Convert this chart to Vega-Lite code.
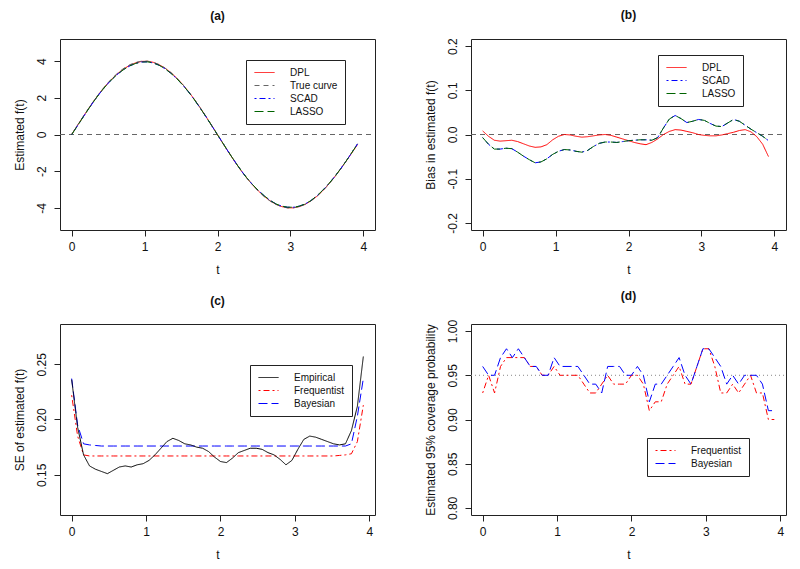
{
"$schema": "https://vega.github.io/schema/vega-lite/v6.json",
"padding": {"left": 12, "top": 8, "right": 5, "bottom": 5},
"background": "white",
"config": {
  "font": "Liberation Sans",
  "view": {"stroke": "#222", "strokeWidth": 1},
  "axis": {"domain": false, "grid": false, "tickColor": "#222", "tickSize": 6, "labelFontSize": 12, "labelColor": "#111", "titleFontSize": 12, "titleFontWeight": "normal", "titleColor": "#111", "labelFont": "Liberation Sans", "titleFont": "Liberation Sans", "labelOverlap": false, "labelFlush": false},
  "axisY": {"labelAngle": -90, "labelAlign": "center", "labelBaseline": "bottom", "labelPadding": 6, "titlePadding": 9},
  "axisX": {"labelPadding": 5, "titlePadding": 12},
  "title": {"fontSize": 12, "fontWeight": "bold", "font": "Liberation Sans", "offset": 16, "color": "#111", "anchor": "middle", "frame": "group"},
  "legend": {"orient": "none", "labelFontSize": 10, "labelFont": "Liberation Sans", "labelColor": "#111", "symbolType": "M-2,0H2", "symbolSize": 100, "symbolStrokeWidth": 1, "symbolOffset": 6, "strokeColor": "#222", "fillColor": "white", "padding": 7, "rowPadding": 2, "labelOffset": 20}
},
"columns": 2,
"spacing": {"row": 94, "column": 96},
"bounds": "flush",
"resolve": {"scale": {"color": "independent", "strokeDash": "independent", "x": "independent", "y": "independent"}, "legend": {"color": "independent", "strokeDash": "independent"}},
"datasets": {
  "a": [
{"t":-0.16,"s":"ref","v":0},{"t":4.16,"s":"ref","v":0},
{"t":0,"s":"DPL","v":0.008},{"t":0.08,"s":"DPL","v":0.497},{"t":0.16,"s":"DPL","v":0.982},{"t":0.24,"s":"DPL","v":1.457},{"t":0.32,"s":"DPL","v":1.913},{"t":0.4,"s":"DPL","v":2.338},{"t":0.48,"s":"DPL","v":2.722},{"t":0.56,"s":"DPL","v":3.061},{"t":0.64,"s":"DPL","v":3.351},{"t":0.72,"s":"DPL","v":3.59},{"t":0.8,"s":"DPL","v":3.776},{"t":0.88,"s":"DPL","v":3.906},{"t":0.96,"s":"DPL","v":3.98},{"t":1.04,"s":"DPL","v":3.988},{"t":1.12,"s":"DPL","v":3.929},{"t":1.2,"s":"DPL","v":3.803},{"t":1.28,"s":"DPL","v":3.615},{"t":1.36,"s":"DPL","v":3.371},{"t":1.44,"s":"DPL","v":3.077},{"t":1.52,"s":"DPL","v":2.735},{"t":1.6,"s":"DPL","v":2.35},{"t":1.68,"s":"DPL","v":1.927},{"t":1.76,"s":"DPL","v":1.47},{"t":1.84,"s":"DPL","v":0.989},{"t":1.92,"s":"DPL","v":0.491},{"t":2,"s":"DPL","v":-0.014},{"t":2.08,"s":"DPL","v":-0.519},{"t":2.16,"s":"DPL","v":-1.016},{"t":2.24,"s":"DPL","v":-1.495},{"t":2.32,"s":"DPL","v":-1.945},{"t":2.4,"s":"DPL","v":-2.361},{"t":2.48,"s":"DPL","v":-2.738},{"t":2.56,"s":"DPL","v":-3.075},{"t":2.64,"s":"DPL","v":-3.366},{"t":2.72,"s":"DPL","v":-3.609},{"t":2.8,"s":"DPL","v":-3.797},{"t":2.88,"s":"DPL","v":-3.925},{"t":2.96,"s":"DPL","v":-3.992},{"t":3.04,"s":"DPL","v":-3.994},{"t":3.12,"s":"DPL","v":-3.932},{"t":3.2,"s":"DPL","v":-3.807},{"t":3.28,"s":"DPL","v":-3.62},{"t":3.36,"s":"DPL","v":-3.375},{"t":3.44,"s":"DPL","v":-3.077},{"t":3.52,"s":"DPL","v":-2.729},{"t":3.6,"s":"DPL","v":-2.34},{"t":3.68,"s":"DPL","v":-1.921},{"t":3.76,"s":"DPL","v":-1.477},{"t":3.84,"s":"DPL","v":-1.017},{"t":3.92,"s":"DPL","v":-0.551},
{"t":0,"s":"True curve","v":0},{"t":0.08,"s":"True curve","v":0.501},{"t":0.16,"s":"True curve","v":0.995},{"t":0.24,"s":"True curve","v":1.472},{"t":0.32,"s":"True curve","v":1.927},{"t":0.4,"s":"True curve","v":2.351},{"t":0.48,"s":"True curve","v":2.738},{"t":0.56,"s":"True curve","v":3.082},{"t":0.64,"s":"True curve","v":3.377},{"t":0.72,"s":"True curve","v":3.619},{"t":0.8,"s":"True curve","v":3.804},{"t":0.88,"s":"True curve","v":3.929},{"t":0.96,"s":"True curve","v":3.992},{"t":1.04,"s":"True curve","v":3.992},{"t":1.12,"s":"True curve","v":3.929},{"t":1.2,"s":"True curve","v":3.804},{"t":1.28,"s":"True curve","v":3.619},{"t":1.36,"s":"True curve","v":3.377},{"t":1.44,"s":"True curve","v":3.082},{"t":1.52,"s":"True curve","v":2.738},{"t":1.6,"s":"True curve","v":2.351},{"t":1.68,"s":"True curve","v":1.927},{"t":1.76,"s":"True curve","v":1.472},{"t":1.84,"s":"True curve","v":0.995},{"t":1.92,"s":"True curve","v":0.501},{"t":2,"s":"True curve","v":0},{"t":2.08,"s":"True curve","v":-0.501},{"t":2.16,"s":"True curve","v":-0.995},{"t":2.24,"s":"True curve","v":-1.472},{"t":2.32,"s":"True curve","v":-1.927},{"t":2.4,"s":"True curve","v":-2.351},{"t":2.48,"s":"True curve","v":-2.738},{"t":2.56,"s":"True curve","v":-3.082},{"t":2.64,"s":"True curve","v":-3.377},{"t":2.72,"s":"True curve","v":-3.619},{"t":2.8,"s":"True curve","v":-3.804},{"t":2.88,"s":"True curve","v":-3.929},{"t":2.96,"s":"True curve","v":-3.992},{"t":3.04,"s":"True curve","v":-3.992},{"t":3.12,"s":"True curve","v":-3.929},{"t":3.2,"s":"True curve","v":-3.804},{"t":3.28,"s":"True curve","v":-3.619},{"t":3.36,"s":"True curve","v":-3.377},{"t":3.44,"s":"True curve","v":-3.082},{"t":3.52,"s":"True curve","v":-2.738},{"t":3.6,"s":"True curve","v":-2.351},{"t":3.68,"s":"True curve","v":-1.927},{"t":3.76,"s":"True curve","v":-1.472},{"t":3.84,"s":"True curve","v":-0.995},{"t":3.92,"s":"True curve","v":-0.501},
{"t":0,"s":"SCAD","v":-0.007},{"t":0.08,"s":"SCAD","v":0.479},{"t":0.16,"s":"SCAD","v":0.962},{"t":0.24,"s":"SCAD","v":1.439},{"t":0.32,"s":"SCAD","v":1.896},{"t":0.4,"s":"SCAD","v":2.319},{"t":0.48,"s":"SCAD","v":2.698},{"t":0.56,"s":"SCAD","v":3.033},{"t":0.64,"s":"SCAD","v":3.32},{"t":0.72,"s":"SCAD","v":3.555},{"t":0.8,"s":"SCAD","v":3.742},{"t":0.88,"s":"SCAD","v":3.874},{"t":0.96,"s":"SCAD","v":3.947},{"t":1.04,"s":"SCAD","v":3.954},{"t":1.12,"s":"SCAD","v":3.895},{"t":1.2,"s":"SCAD","v":3.769},{"t":1.28,"s":"SCAD","v":3.581},{"t":1.36,"s":"SCAD","v":3.337},{"t":1.44,"s":"SCAD","v":3.046},{"t":1.52,"s":"SCAD","v":2.711},{"t":1.6,"s":"SCAD","v":2.331},{"t":1.68,"s":"SCAD","v":1.91},{"t":1.76,"s":"SCAD","v":1.455},{"t":1.84,"s":"SCAD","v":0.977},{"t":1.92,"s":"SCAD","v":0.485},{"t":2,"s":"SCAD","v":-0.014},{"t":2.08,"s":"SCAD","v":-0.514},{"t":2.16,"s":"SCAD","v":-1.007},{"t":2.24,"s":"SCAD","v":-1.484},{"t":2.32,"s":"SCAD","v":-1.94},{"t":2.4,"s":"SCAD","v":-2.358},{"t":2.48,"s":"SCAD","v":-2.723},{"t":2.56,"s":"SCAD","v":-3.049},{"t":2.64,"s":"SCAD","v":-3.334},{"t":2.72,"s":"SCAD","v":-3.583},{"t":2.8,"s":"SCAD","v":-3.777},{"t":2.88,"s":"SCAD","v":-3.899},{"t":2.96,"s":"SCAD","v":-3.958},{"t":3.04,"s":"SCAD","v":-3.96},{"t":3.12,"s":"SCAD","v":-3.904},{"t":3.2,"s":"SCAD","v":-3.785},{"t":3.28,"s":"SCAD","v":-3.601},{"t":3.36,"s":"SCAD","v":-3.351},{"t":3.44,"s":"SCAD","v":-3.048},{"t":3.52,"s":"SCAD","v":-2.708},{"t":3.6,"s":"SCAD","v":-2.33},{"t":3.68,"s":"SCAD","v":-1.915},{"t":3.76,"s":"SCAD","v":-1.468},{"t":3.84,"s":"SCAD","v":-0.999},{"t":3.92,"s":"SCAD","v":-0.515},
{"t":0,"s":"LASSO","v":-0.007},{"t":0.08,"s":"LASSO","v":0.479},{"t":0.16,"s":"LASSO","v":0.962},{"t":0.24,"s":"LASSO","v":1.439},{"t":0.32,"s":"LASSO","v":1.896},{"t":0.4,"s":"LASSO","v":2.319},{"t":0.48,"s":"LASSO","v":2.698},{"t":0.56,"s":"LASSO","v":3.033},{"t":0.64,"s":"LASSO","v":3.32},{"t":0.72,"s":"LASSO","v":3.555},{"t":0.8,"s":"LASSO","v":3.742},{"t":0.88,"s":"LASSO","v":3.874},{"t":0.96,"s":"LASSO","v":3.947},{"t":1.04,"s":"LASSO","v":3.954},{"t":1.12,"s":"LASSO","v":3.895},{"t":1.2,"s":"LASSO","v":3.769},{"t":1.28,"s":"LASSO","v":3.581},{"t":1.36,"s":"LASSO","v":3.337},{"t":1.44,"s":"LASSO","v":3.046},{"t":1.52,"s":"LASSO","v":2.711},{"t":1.6,"s":"LASSO","v":2.331},{"t":1.68,"s":"LASSO","v":1.91},{"t":1.76,"s":"LASSO","v":1.455},{"t":1.84,"s":"LASSO","v":0.977},{"t":1.92,"s":"LASSO","v":0.485},{"t":2,"s":"LASSO","v":-0.014},{"t":2.08,"s":"LASSO","v":-0.514},{"t":2.16,"s":"LASSO","v":-1.007},{"t":2.24,"s":"LASSO","v":-1.484},{"t":2.32,"s":"LASSO","v":-1.94},{"t":2.4,"s":"LASSO","v":-2.358},{"t":2.48,"s":"LASSO","v":-2.723},{"t":2.56,"s":"LASSO","v":-3.049},{"t":2.64,"s":"LASSO","v":-3.334},{"t":2.72,"s":"LASSO","v":-3.583},{"t":2.8,"s":"LASSO","v":-3.777},{"t":2.88,"s":"LASSO","v":-3.899},{"t":2.96,"s":"LASSO","v":-3.958},{"t":3.04,"s":"LASSO","v":-3.96},{"t":3.12,"s":"LASSO","v":-3.904},{"t":3.2,"s":"LASSO","v":-3.785},{"t":3.28,"s":"LASSO","v":-3.601},{"t":3.36,"s":"LASSO","v":-3.351},{"t":3.44,"s":"LASSO","v":-3.048},{"t":3.52,"s":"LASSO","v":-2.708},{"t":3.6,"s":"LASSO","v":-2.33},{"t":3.68,"s":"LASSO","v":-1.915},{"t":3.76,"s":"LASSO","v":-1.468},{"t":3.84,"s":"LASSO","v":-0.999},{"t":3.92,"s":"LASSO","v":-0.515}
  ],
  "b": [
{"t":-0.16,"s":"ref","v":0},{"t":4.16,"s":"ref","v":0},
{"t":0,"s":"DPL","v":0.008},{"t":0.08,"s":"DPL","v":-0.004},{"t":0.16,"s":"DPL","v":-0.013},{"t":0.24,"s":"DPL","v":-0.015},{"t":0.32,"s":"DPL","v":-0.014},{"t":0.4,"s":"DPL","v":-0.013},{"t":0.48,"s":"DPL","v":-0.016},{"t":0.56,"s":"DPL","v":-0.021},{"t":0.64,"s":"DPL","v":-0.026},{"t":0.72,"s":"DPL","v":-0.029},{"t":0.8,"s":"DPL","v":-0.028},{"t":0.88,"s":"DPL","v":-0.023},{"t":0.96,"s":"DPL","v":-0.012},{"t":1.04,"s":"DPL","v":-0.004},{"t":1.12,"s":"DPL","v":0},{"t":1.2,"s":"DPL","v":-0.001},{"t":1.28,"s":"DPL","v":-0.004},{"t":1.36,"s":"DPL","v":-0.006},{"t":1.44,"s":"DPL","v":-0.005},{"t":1.52,"s":"DPL","v":-0.003},{"t":1.6,"s":"DPL","v":-0.001},{"t":1.68,"s":"DPL","v":0},{"t":1.76,"s":"DPL","v":-0.002},{"t":1.84,"s":"DPL","v":-0.006},{"t":1.92,"s":"DPL","v":-0.01},{"t":2,"s":"DPL","v":-0.014},{"t":2.08,"s":"DPL","v":-0.018},{"t":2.16,"s":"DPL","v":-0.021},{"t":2.24,"s":"DPL","v":-0.023},{"t":2.32,"s":"DPL","v":-0.018},{"t":2.4,"s":"DPL","v":-0.01},{"t":2.48,"s":"DPL","v":0},{"t":2.56,"s":"DPL","v":0.007},{"t":2.64,"s":"DPL","v":0.011},{"t":2.72,"s":"DPL","v":0.01},{"t":2.8,"s":"DPL","v":0.007},{"t":2.88,"s":"DPL","v":0.004},{"t":2.96,"s":"DPL","v":0},{"t":3.04,"s":"DPL","v":-0.002},{"t":3.12,"s":"DPL","v":-0.003},{"t":3.2,"s":"DPL","v":-0.003},{"t":3.28,"s":"DPL","v":-0.001},{"t":3.36,"s":"DPL","v":0.002},{"t":3.44,"s":"DPL","v":0.005},{"t":3.52,"s":"DPL","v":0.009},{"t":3.6,"s":"DPL","v":0.011},{"t":3.68,"s":"DPL","v":0.006},{"t":3.76,"s":"DPL","v":-0.005},{"t":3.84,"s":"DPL","v":-0.022},{"t":3.92,"s":"DPL","v":-0.05},
{"t":0,"s":"SCAD","v":-0.007},{"t":0.08,"s":"SCAD","v":-0.022},{"t":0.16,"s":"SCAD","v":-0.033},{"t":0.24,"s":"SCAD","v":-0.033},{"t":0.32,"s":"SCAD","v":-0.031},{"t":0.4,"s":"SCAD","v":-0.032},{"t":0.48,"s":"SCAD","v":-0.04},{"t":0.56,"s":"SCAD","v":-0.049},{"t":0.64,"s":"SCAD","v":-0.057},{"t":0.72,"s":"SCAD","v":-0.064},{"t":0.8,"s":"SCAD","v":-0.062},{"t":0.88,"s":"SCAD","v":-0.055},{"t":0.96,"s":"SCAD","v":-0.045},{"t":1.04,"s":"SCAD","v":-0.038},{"t":1.12,"s":"SCAD","v":-0.034},{"t":1.2,"s":"SCAD","v":-0.035},{"t":1.28,"s":"SCAD","v":-0.038},{"t":1.36,"s":"SCAD","v":-0.04},{"t":1.44,"s":"SCAD","v":-0.036},{"t":1.52,"s":"SCAD","v":-0.027},{"t":1.6,"s":"SCAD","v":-0.02},{"t":1.68,"s":"SCAD","v":-0.017},{"t":1.76,"s":"SCAD","v":-0.017},{"t":1.84,"s":"SCAD","v":-0.018},{"t":1.92,"s":"SCAD","v":-0.016},{"t":2,"s":"SCAD","v":-0.014},{"t":2.08,"s":"SCAD","v":-0.013},{"t":2.16,"s":"SCAD","v":-0.012},{"t":2.24,"s":"SCAD","v":-0.012},{"t":2.32,"s":"SCAD","v":-0.013},{"t":2.4,"s":"SCAD","v":-0.007},{"t":2.48,"s":"SCAD","v":0.015},{"t":2.56,"s":"SCAD","v":0.035},{"t":2.64,"s":"SCAD","v":0.043},{"t":2.72,"s":"SCAD","v":0.036},{"t":2.8,"s":"SCAD","v":0.027},{"t":2.88,"s":"SCAD","v":0.03},{"t":2.96,"s":"SCAD","v":0.034},{"t":3.04,"s":"SCAD","v":0.032},{"t":3.12,"s":"SCAD","v":0.025},{"t":3.2,"s":"SCAD","v":0.019},{"t":3.28,"s":"SCAD","v":0.018},{"t":3.36,"s":"SCAD","v":0.026},{"t":3.44,"s":"SCAD","v":0.034},{"t":3.52,"s":"SCAD","v":0.03},{"t":3.6,"s":"SCAD","v":0.021},{"t":3.68,"s":"SCAD","v":0.012},{"t":3.76,"s":"SCAD","v":0.004},{"t":3.84,"s":"SCAD","v":-0.004},{"t":3.92,"s":"SCAD","v":-0.014},
{"t":0,"s":"LASSO","v":-0.007},{"t":0.08,"s":"LASSO","v":-0.022},{"t":0.16,"s":"LASSO","v":-0.033},{"t":0.24,"s":"LASSO","v":-0.033},{"t":0.32,"s":"LASSO","v":-0.031},{"t":0.4,"s":"LASSO","v":-0.032},{"t":0.48,"s":"LASSO","v":-0.04},{"t":0.56,"s":"LASSO","v":-0.049},{"t":0.64,"s":"LASSO","v":-0.057},{"t":0.72,"s":"LASSO","v":-0.064},{"t":0.8,"s":"LASSO","v":-0.062},{"t":0.88,"s":"LASSO","v":-0.055},{"t":0.96,"s":"LASSO","v":-0.045},{"t":1.04,"s":"LASSO","v":-0.038},{"t":1.12,"s":"LASSO","v":-0.034},{"t":1.2,"s":"LASSO","v":-0.035},{"t":1.28,"s":"LASSO","v":-0.038},{"t":1.36,"s":"LASSO","v":-0.04},{"t":1.44,"s":"LASSO","v":-0.036},{"t":1.52,"s":"LASSO","v":-0.027},{"t":1.6,"s":"LASSO","v":-0.02},{"t":1.68,"s":"LASSO","v":-0.017},{"t":1.76,"s":"LASSO","v":-0.017},{"t":1.84,"s":"LASSO","v":-0.018},{"t":1.92,"s":"LASSO","v":-0.016},{"t":2,"s":"LASSO","v":-0.014},{"t":2.08,"s":"LASSO","v":-0.013},{"t":2.16,"s":"LASSO","v":-0.012},{"t":2.24,"s":"LASSO","v":-0.012},{"t":2.32,"s":"LASSO","v":-0.013},{"t":2.4,"s":"LASSO","v":-0.007},{"t":2.48,"s":"LASSO","v":0.015},{"t":2.56,"s":"LASSO","v":0.035},{"t":2.64,"s":"LASSO","v":0.043},{"t":2.72,"s":"LASSO","v":0.036},{"t":2.8,"s":"LASSO","v":0.027},{"t":2.88,"s":"LASSO","v":0.03},{"t":2.96,"s":"LASSO","v":0.034},{"t":3.04,"s":"LASSO","v":0.032},{"t":3.12,"s":"LASSO","v":0.025},{"t":3.2,"s":"LASSO","v":0.019},{"t":3.28,"s":"LASSO","v":0.018},{"t":3.36,"s":"LASSO","v":0.026},{"t":3.44,"s":"LASSO","v":0.034},{"t":3.52,"s":"LASSO","v":0.03},{"t":3.6,"s":"LASSO","v":0.021},{"t":3.68,"s":"LASSO","v":0.012},{"t":3.76,"s":"LASSO","v":0.004},{"t":3.84,"s":"LASSO","v":-0.004},{"t":3.92,"s":"LASSO","v":-0.014}
  ],
  "c": [
{"t":0,"s":"Frequentist","v":0.222},{"t":0.08,"s":"Frequentist","v":0.185},{"t":0.16,"s":"Frequentist","v":0.168},{"t":0.24,"s":"Frequentist","v":0.167},{"t":0.32,"s":"Frequentist","v":0.167},{"t":0.4,"s":"Frequentist","v":0.167},{"t":0.48,"s":"Frequentist","v":0.167},{"t":0.56,"s":"Frequentist","v":0.167},{"t":0.64,"s":"Frequentist","v":0.167},{"t":0.72,"s":"Frequentist","v":0.167},{"t":0.8,"s":"Frequentist","v":0.167},{"t":0.88,"s":"Frequentist","v":0.167},{"t":0.96,"s":"Frequentist","v":0.167},{"t":1.04,"s":"Frequentist","v":0.167},{"t":1.12,"s":"Frequentist","v":0.167},{"t":1.2,"s":"Frequentist","v":0.167},{"t":1.28,"s":"Frequentist","v":0.167},{"t":1.36,"s":"Frequentist","v":0.167},{"t":1.44,"s":"Frequentist","v":0.167},{"t":1.52,"s":"Frequentist","v":0.167},{"t":1.6,"s":"Frequentist","v":0.167},{"t":1.68,"s":"Frequentist","v":0.167},{"t":1.76,"s":"Frequentist","v":0.167},{"t":1.84,"s":"Frequentist","v":0.167},{"t":1.92,"s":"Frequentist","v":0.167},{"t":2,"s":"Frequentist","v":0.167},{"t":2.08,"s":"Frequentist","v":0.167},{"t":2.16,"s":"Frequentist","v":0.167},{"t":2.24,"s":"Frequentist","v":0.167},{"t":2.32,"s":"Frequentist","v":0.167},{"t":2.4,"s":"Frequentist","v":0.167},{"t":2.48,"s":"Frequentist","v":0.167},{"t":2.56,"s":"Frequentist","v":0.167},{"t":2.64,"s":"Frequentist","v":0.167},{"t":2.72,"s":"Frequentist","v":0.167},{"t":2.8,"s":"Frequentist","v":0.167},{"t":2.88,"s":"Frequentist","v":0.167},{"t":2.96,"s":"Frequentist","v":0.167},{"t":3.04,"s":"Frequentist","v":0.167},{"t":3.12,"s":"Frequentist","v":0.167},{"t":3.2,"s":"Frequentist","v":0.167},{"t":3.28,"s":"Frequentist","v":0.167},{"t":3.36,"s":"Frequentist","v":0.167},{"t":3.44,"s":"Frequentist","v":0.167},{"t":3.52,"s":"Frequentist","v":0.167},{"t":3.6,"s":"Frequentist","v":0.1675},{"t":3.68,"s":"Frequentist","v":0.168},{"t":3.76,"s":"Frequentist","v":0.169},{"t":3.84,"s":"Frequentist","v":0.18},{"t":3.92,"s":"Frequentist","v":0.213},
{"t":0,"s":"Bayesian","v":0.237},{"t":0.08,"s":"Bayesian","v":0.195},{"t":0.16,"s":"Bayesian","v":0.178},{"t":0.24,"s":"Bayesian","v":0.177},{"t":0.32,"s":"Bayesian","v":0.1765},{"t":0.4,"s":"Bayesian","v":0.176},{"t":0.48,"s":"Bayesian","v":0.176},{"t":0.56,"s":"Bayesian","v":0.176},{"t":0.64,"s":"Bayesian","v":0.176},{"t":0.72,"s":"Bayesian","v":0.176},{"t":0.8,"s":"Bayesian","v":0.176},{"t":0.88,"s":"Bayesian","v":0.176},{"t":0.96,"s":"Bayesian","v":0.176},{"t":1.04,"s":"Bayesian","v":0.176},{"t":1.12,"s":"Bayesian","v":0.176},{"t":1.2,"s":"Bayesian","v":0.176},{"t":1.28,"s":"Bayesian","v":0.176},{"t":1.36,"s":"Bayesian","v":0.176},{"t":1.44,"s":"Bayesian","v":0.176},{"t":1.52,"s":"Bayesian","v":0.176},{"t":1.6,"s":"Bayesian","v":0.176},{"t":1.68,"s":"Bayesian","v":0.176},{"t":1.76,"s":"Bayesian","v":0.176},{"t":1.84,"s":"Bayesian","v":0.176},{"t":1.92,"s":"Bayesian","v":0.176},{"t":2,"s":"Bayesian","v":0.176},{"t":2.08,"s":"Bayesian","v":0.176},{"t":2.16,"s":"Bayesian","v":0.176},{"t":2.24,"s":"Bayesian","v":0.176},{"t":2.32,"s":"Bayesian","v":0.176},{"t":2.4,"s":"Bayesian","v":0.176},{"t":2.48,"s":"Bayesian","v":0.176},{"t":2.56,"s":"Bayesian","v":0.176},{"t":2.64,"s":"Bayesian","v":0.176},{"t":2.72,"s":"Bayesian","v":0.176},{"t":2.8,"s":"Bayesian","v":0.176},{"t":2.88,"s":"Bayesian","v":0.176},{"t":2.96,"s":"Bayesian","v":0.176},{"t":3.04,"s":"Bayesian","v":0.176},{"t":3.12,"s":"Bayesian","v":0.176},{"t":3.2,"s":"Bayesian","v":0.176},{"t":3.28,"s":"Bayesian","v":0.176},{"t":3.36,"s":"Bayesian","v":0.176},{"t":3.44,"s":"Bayesian","v":0.176},{"t":3.52,"s":"Bayesian","v":0.176},{"t":3.6,"s":"Bayesian","v":0.176},{"t":3.68,"s":"Bayesian","v":0.176},{"t":3.76,"s":"Bayesian","v":0.178},{"t":3.84,"s":"Bayesian","v":0.203},{"t":3.92,"s":"Bayesian","v":0.237},
{"t":0,"s":"Empirical","v":0.236},{"t":0.08,"s":"Empirical","v":0.193},{"t":0.16,"s":"Empirical","v":0.168},{"t":0.24,"s":"Empirical","v":0.158},{"t":0.32,"s":"Empirical","v":0.155},{"t":0.4,"s":"Empirical","v":0.153},{"t":0.48,"s":"Empirical","v":0.151},{"t":0.56,"s":"Empirical","v":0.154},{"t":0.64,"s":"Empirical","v":0.157},{"t":0.72,"s":"Empirical","v":0.158},{"t":0.8,"s":"Empirical","v":0.157},{"t":0.88,"s":"Empirical","v":0.159},{"t":0.96,"s":"Empirical","v":0.16},{"t":1.04,"s":"Empirical","v":0.163},{"t":1.12,"s":"Empirical","v":0.168},{"t":1.2,"s":"Empirical","v":0.174},{"t":1.28,"s":"Empirical","v":0.18},{"t":1.36,"s":"Empirical","v":0.183},{"t":1.44,"s":"Empirical","v":0.181},{"t":1.52,"s":"Empirical","v":0.178},{"t":1.6,"s":"Empirical","v":0.177},{"t":1.68,"s":"Empirical","v":0.175},{"t":1.76,"s":"Empirical","v":0.174},{"t":1.84,"s":"Empirical","v":0.171},{"t":1.92,"s":"Empirical","v":0.166},{"t":2,"s":"Empirical","v":0.162},{"t":2.08,"s":"Empirical","v":0.161},{"t":2.16,"s":"Empirical","v":0.165},{"t":2.24,"s":"Empirical","v":0.17},{"t":2.32,"s":"Empirical","v":0.172},{"t":2.4,"s":"Empirical","v":0.174},{"t":2.48,"s":"Empirical","v":0.174},{"t":2.56,"s":"Empirical","v":0.173},{"t":2.64,"s":"Empirical","v":0.17},{"t":2.72,"s":"Empirical","v":0.168},{"t":2.8,"s":"Empirical","v":0.164},{"t":2.88,"s":"Empirical","v":0.159},{"t":2.96,"s":"Empirical","v":0.163},{"t":3.04,"s":"Empirical","v":0.173},{"t":3.12,"s":"Empirical","v":0.182},{"t":3.2,"s":"Empirical","v":0.185},{"t":3.28,"s":"Empirical","v":0.184},{"t":3.36,"s":"Empirical","v":0.182},{"t":3.44,"s":"Empirical","v":0.18},{"t":3.52,"s":"Empirical","v":0.178},{"t":3.6,"s":"Empirical","v":0.177},{"t":3.68,"s":"Empirical","v":0.178},{"t":3.76,"s":"Empirical","v":0.19},{"t":3.84,"s":"Empirical","v":0.212},{"t":3.92,"s":"Empirical","v":0.257}
  ],
  "d": [
{"t":-0.1568,"s":"ref","v":0.95},{"t":4.0768,"s":"ref","v":0.95},
{"t":0,"s":"Frequentist","v":0.93},{"t":0.08,"s":"Frequentist","v":0.95},{"t":0.16,"s":"Frequentist","v":0.93},{"t":0.24,"s":"Frequentist","v":0.96},{"t":0.32,"s":"Frequentist","v":0.97},{"t":0.4,"s":"Frequentist","v":0.97},{"t":0.48,"s":"Frequentist","v":0.97},{"t":0.56,"s":"Frequentist","v":0.97},{"t":0.64,"s":"Frequentist","v":0.96},{"t":0.72,"s":"Frequentist","v":0.96},{"t":0.8,"s":"Frequentist","v":0.95},{"t":0.88,"s":"Frequentist","v":0.95},{"t":0.96,"s":"Frequentist","v":0.96},{"t":1.04,"s":"Frequentist","v":0.95},{"t":1.12,"s":"Frequentist","v":0.95},{"t":1.2,"s":"Frequentist","v":0.95},{"t":1.28,"s":"Frequentist","v":0.95},{"t":1.36,"s":"Frequentist","v":0.94},{"t":1.44,"s":"Frequentist","v":0.93},{"t":1.52,"s":"Frequentist","v":0.93},{"t":1.6,"s":"Frequentist","v":0.94},{"t":1.68,"s":"Frequentist","v":0.95},{"t":1.76,"s":"Frequentist","v":0.94},{"t":1.84,"s":"Frequentist","v":0.94},{"t":1.92,"s":"Frequentist","v":0.94},{"t":2,"s":"Frequentist","v":0.95},{"t":2.08,"s":"Frequentist","v":0.95},{"t":2.16,"s":"Frequentist","v":0.94},{"t":2.24,"s":"Frequentist","v":0.91},{"t":2.32,"s":"Frequentist","v":0.92},{"t":2.4,"s":"Frequentist","v":0.92},{"t":2.48,"s":"Frequentist","v":0.94},{"t":2.56,"s":"Frequentist","v":0.95},{"t":2.64,"s":"Frequentist","v":0.96},{"t":2.72,"s":"Frequentist","v":0.94},{"t":2.8,"s":"Frequentist","v":0.94},{"t":2.88,"s":"Frequentist","v":0.96},{"t":2.96,"s":"Frequentist","v":0.98},{"t":3.04,"s":"Frequentist","v":0.98},{"t":3.12,"s":"Frequentist","v":0.96},{"t":3.2,"s":"Frequentist","v":0.93},{"t":3.28,"s":"Frequentist","v":0.93},{"t":3.36,"s":"Frequentist","v":0.94},{"t":3.44,"s":"Frequentist","v":0.93},{"t":3.52,"s":"Frequentist","v":0.94},{"t":3.6,"s":"Frequentist","v":0.95},{"t":3.68,"s":"Frequentist","v":0.93},{"t":3.76,"s":"Frequentist","v":0.93},{"t":3.84,"s":"Frequentist","v":0.9},{"t":3.92,"s":"Frequentist","v":0.9},
{"t":0,"s":"Bayesian","v":0.96},{"t":0.08,"s":"Bayesian","v":0.95},{"t":0.16,"s":"Bayesian","v":0.95},{"t":0.24,"s":"Bayesian","v":0.97},{"t":0.32,"s":"Bayesian","v":0.98},{"t":0.4,"s":"Bayesian","v":0.97},{"t":0.48,"s":"Bayesian","v":0.98},{"t":0.56,"s":"Bayesian","v":0.97},{"t":0.64,"s":"Bayesian","v":0.96},{"t":0.72,"s":"Bayesian","v":0.96},{"t":0.8,"s":"Bayesian","v":0.95},{"t":0.88,"s":"Bayesian","v":0.95},{"t":0.96,"s":"Bayesian","v":0.97},{"t":1.04,"s":"Bayesian","v":0.96},{"t":1.12,"s":"Bayesian","v":0.96},{"t":1.2,"s":"Bayesian","v":0.96},{"t":1.28,"s":"Bayesian","v":0.96},{"t":1.36,"s":"Bayesian","v":0.95},{"t":1.44,"s":"Bayesian","v":0.94},{"t":1.52,"s":"Bayesian","v":0.94},{"t":1.6,"s":"Bayesian","v":0.93},{"t":1.68,"s":"Bayesian","v":0.96},{"t":1.76,"s":"Bayesian","v":0.96},{"t":1.84,"s":"Bayesian","v":0.96},{"t":1.92,"s":"Bayesian","v":0.95},{"t":2,"s":"Bayesian","v":0.95},{"t":2.08,"s":"Bayesian","v":0.96},{"t":2.16,"s":"Bayesian","v":0.95},{"t":2.24,"s":"Bayesian","v":0.92},{"t":2.32,"s":"Bayesian","v":0.94},{"t":2.4,"s":"Bayesian","v":0.94},{"t":2.48,"s":"Bayesian","v":0.95},{"t":2.56,"s":"Bayesian","v":0.96},{"t":2.64,"s":"Bayesian","v":0.97},{"t":2.72,"s":"Bayesian","v":0.95},{"t":2.8,"s":"Bayesian","v":0.94},{"t":2.88,"s":"Bayesian","v":0.96},{"t":2.96,"s":"Bayesian","v":0.98},{"t":3.04,"s":"Bayesian","v":0.98},{"t":3.12,"s":"Bayesian","v":0.97},{"t":3.2,"s":"Bayesian","v":0.96},{"t":3.28,"s":"Bayesian","v":0.94},{"t":3.36,"s":"Bayesian","v":0.95},{"t":3.44,"s":"Bayesian","v":0.94},{"t":3.52,"s":"Bayesian","v":0.95},{"t":3.6,"s":"Bayesian","v":0.95},{"t":3.68,"s":"Bayesian","v":0.95},{"t":3.76,"s":"Bayesian","v":0.94},{"t":3.84,"s":"Bayesian","v":0.91},{"t":3.92,"s":"Bayesian","v":0.91}
  ]
},
"concat": [
  {
    "title": "(a)", "width": 315, "height": 191,
    "data": {"name": "a"},
    "mark": {"type": "line", "strokeWidth": 1},
    "encoding": {
      "x": {"field": "t", "type": "quantitative", "title": "t", "scale": {"domain": [-0.16, 4.16], "nice": false, "zero": false}, "axis": {"values": [0, 1, 2, 3, 4]}},
      "y": {"field": "v", "type": "quantitative", "title": "Estimated f(t)", "scale": {"domain": [-5.2, 5.2], "nice": false, "zero": false}, "axis": {"values": [-4, -2, 0, 2, 4], "labelExpr": "datum.value + ''"}},
      "color": {"field": "s", "type": "nominal", "scale": {"domain": ["DPL", "True curve", "SCAD", "LASSO", "ref"], "range": ["#ff0000", "#666666", "#0000ff", "#006400", "#666666"]}, "legend": {"title": null, "legendX": 186, "legendY": 21, "values": ["DPL", "True curve", "SCAD", "LASSO"]}},
      "strokeDash": {"field": "s", "type": "nominal", "scale": {"domain": ["DPL", "True curve", "SCAD", "LASSO", "ref"], "range": [[1, 0], [5, 4], [2, 3, 6, 3], [9, 4], [5, 4]]}, "legend": {"title": null, "legendX": 186, "legendY": 21, "values": ["DPL", "True curve", "SCAD", "LASSO"]}}
    }
  },
  {
    "title": "(b)", "width": 315, "height": 191,
    "data": {"name": "b"},
    "mark": {"type": "line", "strokeWidth": 1},
    "encoding": {
      "x": {"field": "t", "type": "quantitative", "title": "t", "scale": {"domain": [-0.16, 4.16], "nice": false, "zero": false}, "axis": {"values": [0, 1, 2, 3, 4]}},
      "y": {"field": "v", "type": "quantitative", "title": "Bias in estimated f(t)", "scale": {"domain": [-0.216, 0.216], "nice": false, "zero": false}, "axis": {"values": [-0.2, -0.1, 0, 0.1, 0.2], "labelExpr": "datum.value == 0 ? '0.0' : datum.value + ''"}},
      "color": {"field": "s", "type": "nominal", "scale": {"domain": ["DPL", "SCAD", "LASSO", "ref"], "range": ["#ff0000", "#0000ff", "#006400", "#666666"]}, "legend": {"title": null, "legendX": 187, "legendY": 16, "values": ["DPL", "SCAD", "LASSO"]}},
      "strokeDash": {"field": "s", "type": "nominal", "scale": {"domain": ["DPL", "SCAD", "LASSO", "ref"], "range": [[1, 0], [2, 3, 6, 3], [9, 4], [5, 4]]}, "legend": {"title": null, "legendX": 187, "legendY": 16, "values": ["DPL", "SCAD", "LASSO"]}}
    }
  },
  {
    "title": "(c)", "width": 315, "height": 191,
    "data": {"name": "c"},
    "mark": {"type": "line", "strokeWidth": 1},
    "encoding": {
      "x": {"field": "t", "type": "quantitative", "title": "t", "scale": {"domain": [-0.1568, 4.0768], "nice": false, "zero": false}, "axis": {"values": [0, 1, 2, 3, 4]}},
      "y": {"field": "v", "type": "quantitative", "title": "SE of estimated f(t)", "scale": {"domain": [0.1136, 0.2864], "nice": false, "zero": false}, "axis": {"values": [0.15, 0.2, 0.25], "format": ".2f"}},
      "color": {"field": "s", "type": "nominal", "scale": {"domain": ["Empirical", "Frequentist", "Bayesian"], "range": ["#000000", "#ff0000", "#0000ff"]}, "legend": {"title": null, "legendX": 190, "legendY": 41}},
      "strokeDash": {"field": "s", "type": "nominal", "scale": {"domain": ["Empirical", "Frequentist", "Bayesian"], "range": [[1, 0], [2, 3, 6, 3], [9, 4]]}, "legend": {"title": null, "legendX": 190, "legendY": 41}}
    }
  },
  {
    "title": "(d)", "width": 315, "height": 191,
    "data": {"name": "d"},
    "mark": {"type": "line", "strokeWidth": 1},
    "encoding": {
      "x": {"field": "t", "type": "quantitative", "title": "t", "scale": {"domain": [-0.1568, 4.0768], "nice": false, "zero": false}, "axis": {"values": [0, 1, 2, 3, 4]}},
      "y": {"field": "v", "type": "quantitative", "title": "Estimated 95% coverage probability", "scale": {"domain": [0.792, 1.008], "nice": false, "zero": false}, "axis": {"values": [0.8, 0.85, 0.9, 0.95, 1.0], "format": ".2f"}},
      "color": {"field": "s", "type": "nominal", "scale": {"domain": ["Frequentist", "Bayesian", "ref"], "range": ["#ff0000", "#0000ff", "#888888"]}, "legend": {"title": null, "legendX": 176, "legendY": 114, "values": ["Frequentist", "Bayesian"]}},
      "strokeDash": {"field": "s", "type": "nominal", "scale": {"domain": ["Frequentist", "Bayesian", "ref"], "range": [[2, 3, 6, 3], [9, 4], [1, 3]]}, "legend": {"title": null, "legendX": 176, "legendY": 114, "values": ["Frequentist", "Bayesian"]}}
    }
  }
]
}
